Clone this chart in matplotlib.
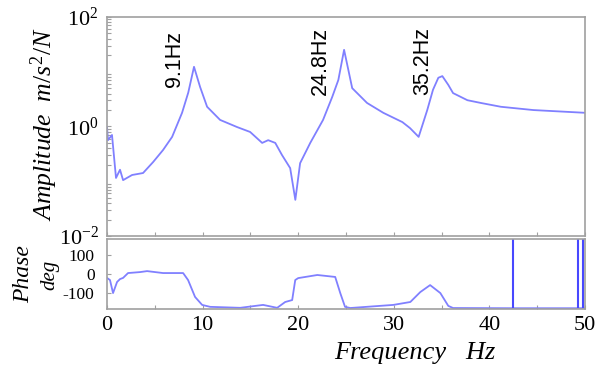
import numpy as np
import matplotlib
matplotlib.use("Agg")
import matplotlib.pyplot as plt
from matplotlib.ticker import LogLocator, MultipleLocator, NullFormatter, FixedLocator

# amplitude (FRF), log10 of m/s^2/N
amp_freq = [0.0, 0.1, 0.52, 0.94, 1.36, 1.68, 2.62, 3.77, 4.82, 5.86, 6.81, 7.85,
            8.5, 9.1, 9.74, 10.47, 11.83, 13.6, 14.97, 16.23, 16.86, 17.6, 18.3,
            19.16, 19.7, 20.2, 21.26, 22.6, 23.56, 24.2, 24.8, 25.65, 27.2, 28.9,
            30.9, 31.7, 32.6, 33.5, 34.1, 34.66, 35.08, 35.7, 36.2, 37.7, 39.1,
            41.2, 44.6, 50.0]
amp_log = [-0.01, -0.25, -0.155, -0.94, -0.79, -0.98, -0.886, -0.85, -0.65, -0.43,
           -0.19, 0.25, 0.62, 1.09, 0.72, 0.36, 0.12, -0.01, -0.10, -0.30, -0.25,
           -0.30, -0.52, -0.76, -1.34, -0.67, -0.30, 0.12, 0.54, 0.85, 1.40, 0.70,
           0.43, 0.25, 0.08, -0.03, -0.19, 0.30, 0.67, 0.89, 0.92, 0.76, 0.61,
           0.48, 0.43, 0.36, 0.30, 0.25]

# phase, deg
ph_freq = [0.0, 0.31, 0.63, 1.05, 1.36, 1.68, 2.2, 3.46, 4.19, 5.86, 7.64, 7.96,
           8.48, 9.21, 9.95, 10.79, 13.93, 16.33, 17.8, 18.64, 19.37, 19.69, 20.0,
           22.0, 23.87, 24.4, 24.9, 25.45, 29.95, 31.73, 32.77, 33.8, 34.87, 35.7,
           36.2, 42.4, 49.1, 50.0]
ph_deg = [-20, -31, -98, -41, -26, -20, 5, 10, 15, 5, 5, 5, -31, -118, -159, -169,
          -174, -159, -174, -144, -134, -31, -21, -5, -15, -98, -169, -175, -159,
          -144, -93, -57, -98, -164, -175, -176, -176, -176]
# phase wraps (+/-180)
spike_freq = [42.5, 49.3, 49.8]

peak_freq = [9.1, 24.8, 35.2]
peak_text_x = [7.1, 22.3, 33.0]
peak_text_y = [5.2, 3.8, 3.8]

plt.rcParams['mathtext.fontset'] = 'custom'
plt.rcParams['mathtext.rm'] = 'Liberation Serif'
plt.rcParams['mathtext.it'] = 'Liberation Serif:italic'
plt.rcParams['font.family'] = 'Liberation Serif'

line_c = '#8080ff'
spine_c = '#a0a0a0'

fig = plt.figure(figsize=(6.06, 3.70), dpi=100)
ax1 = fig.add_axes([0.1766, 0.3622, 0.7887, 0.5919])
ax2 = fig.add_axes([0.1766, 0.1649, 0.7887, 0.189])

ax1.plot(amp_freq, 10 ** np.array(amp_log), color=line_c, lw=1.3)
ax1.set_yscale('log')
ax1.set_ylim(1e-2, 1e2)
ax1.set_xlim(0, 50)
ax1.yaxis.set_major_locator(FixedLocator([1e-2, 1e0, 1e2]))
ax1.yaxis.set_minor_locator(LogLocator(base=10, subs='auto', numticks=20))
ax1.yaxis.set_minor_formatter(NullFormatter())
ax1.set_yticklabels([r'$10^{-2}$', r'$10^{0}$', r'$10^{2}$'])
ax1.xaxis.set_major_locator(MultipleLocator(5))
ax1.tick_params(axis='x', labelbottom=False)

for f, tx, ty in zip(peak_freq, peak_text_x, peak_text_y):
    ax1.text(tx, ty, f"{f}Hz", rotation=90, ha='center', va='bottom',
             fontsize=15.5, family='Liberation Sans')

ax2.plot(ph_freq, ph_deg, color=line_c, lw=1.3)
ax2.vlines(spike_freq, -176, 178, color='#4848ff', lw=1.5)
ax2.set_xlim(0, 50)
ax2.set_ylim(-180, 180)
ax2.set_yticks([-100, 0, 100])
ax2.set_yticklabels(['-100', '0', '100'])
ax2.xaxis.set_major_locator(MultipleLocator(10))
ax2.xaxis.set_minor_locator(MultipleLocator(5))

for ax in (ax1, ax2):
    for s in ax.spines.values():
        s.set_color(spine_c)
        s.set_linewidth(1.2)
    ax.tick_params(which='both', direction='in', color=spine_c, length=3,
                   width=0.8, pad=6, labelsize=16)
ax2.tick_params(axis='y', labelsize=12.5, pad=9)
ax2.tick_params(axis='x', pad=5)

fig.text(44 / 606, 1 - 124 / 370, r'$Amplitude\ \ m/s^2/N$', rotation=90,
         ha='center', va='center', fontsize=18.5)
fig.text(24 / 606, 1 - 274 / 370, 'Phase', rotation=90, style='italic',
         ha='center', va='center', fontsize=17)
fig.text(50 / 606, 1 - 275 / 370, 'deg', rotation=90, style='italic',
         ha='center', va='center', fontsize=15)
fig.text(415 / 606, 1 - 353 / 370, 'Frequency   Hz', style='italic',
         ha='center', va='center', fontsize=19)

fig.savefig('out.png', dpi=100)
